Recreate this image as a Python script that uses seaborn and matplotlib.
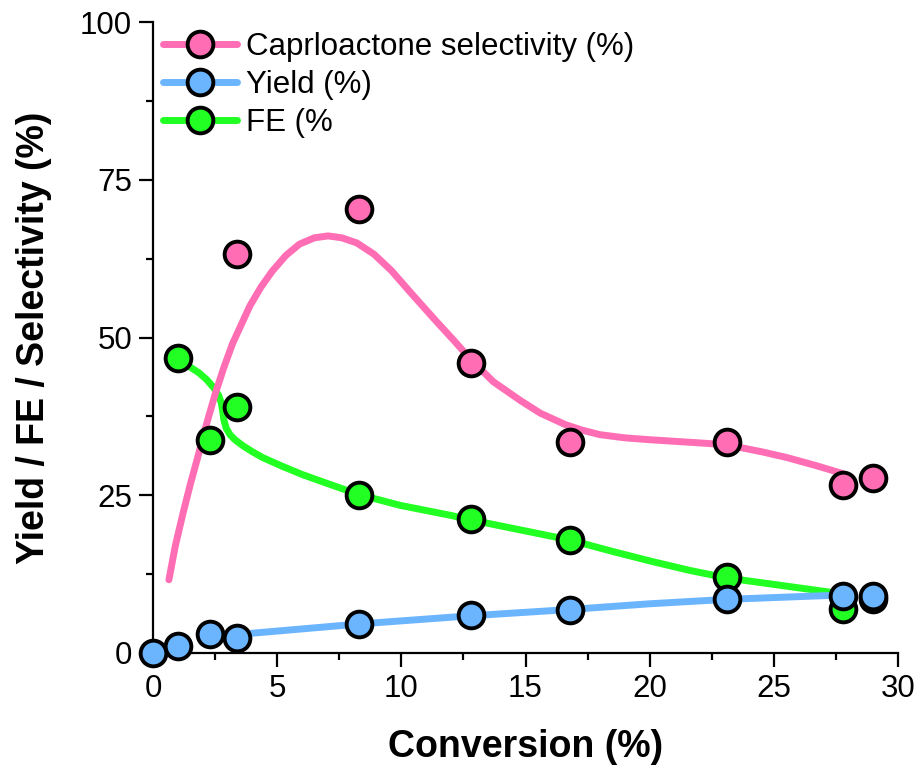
import matplotlib
matplotlib.use("Agg")
import matplotlib.pyplot as plt
from matplotlib.lines import Line2D
from matplotlib.ticker import MultipleLocator
import seaborn as sns
import pandas as pd

# ---- measured data points ----
conversion = [0.0, 1.0, 2.3, 3.4, 8.3, 12.8, 16.8, 23.1, 27.8, 29.0]
sel_conv = [3.4, 8.3, 12.8, 16.8, 23.1, 27.8, 29.0]
selectivity = [63.2, 70.4, 46.0, 33.5, 33.4, 26.7, 27.8]
fe_conv = [1.0, 2.3, 3.4, 8.3, 12.8, 16.8, 23.1, 27.8, 29.0]
fe = [46.8, 33.8, 39.0, 25.1, 21.2, 17.9, 12.0, 6.9, 8.6]
yield_vals = [0.0, 1.1, 3.0, 2.3, 4.6, 6.0, 6.8, 8.6, 9.1, 9.0]

# ---- fitted trend curves ----
sel_fit_x = [0.64, 0.9, 1.2, 1.5, 1.8, 2.15, 2.5, 2.85, 3.2, 3.55, 3.9, 4.35,
             4.8, 5.35, 5.9, 6.5, 7.05, 7.6, 8.2, 8.9, 9.6, 10.4, 11.4, 12.1,
             12.8, 13.7, 14.8, 15.6, 16.6, 17.3, 18.0, 19.0, 20.0, 22.0, 23.1,
             24.5, 25.5, 26.7, 27.8]
sel_fit_y = [11.6, 17.0, 22.0, 26.7, 31.0, 36.2, 41.0, 45.2, 49.0, 52.0, 55.0,
             58.0, 60.5, 63.0, 64.8, 65.8, 66.1, 65.8, 65.0, 63.2, 60.6, 57.0,
             52.6, 49.6, 46.5, 43.0, 40.0, 38.0, 36.2, 35.3, 34.6, 34.1, 33.8,
             33.3, 33.0, 31.9, 31.0, 29.7, 28.4]
fe_fit_x = [1.1, 1.5, 1.85, 2.17, 2.45, 2.65, 2.75, 2.8, 2.85, 2.95, 3.1, 3.3,
            3.6, 4.0, 4.4, 5.2, 6.0, 6.85, 8.3, 9.95, 12.0, 12.8, 14.8, 16.8,
            18.5, 20.1, 21.6, 23.1, 25.5, 27.7]
fe_fit_y = [46.8, 45.3, 44.4, 43.3, 42.0, 40.8, 39.6, 38.5, 37.0, 35.6, 34.6,
            33.8, 32.9, 31.9, 31.0, 29.6, 28.3, 27.1, 25.1, 23.4, 21.8, 21.1,
            19.5, 17.9, 16.1, 14.5, 13.1, 11.9, 10.6, 9.4]
yield_fit_x = [3.4, 3.9, 8.3, 12.8, 16.8, 20.0, 23.1, 27.8]
yield_fit_y = [2.9, 3.1, 4.6, 5.9, 6.9, 7.8, 8.5, 9.2]

labels = ["Caprloactone selectivity (%)", "Yield (%)", "FE (%"]

PINK = "#FF6EB4"
BLUE = "#6BB5FF"
GREEN = "#22FF22"

sns.set_style("ticks")
plt.rcParams["font.family"] = ["Liberation Sans", "DejaVu Sans"]
plt.rcParams["text.color"] = "black"
plt.rcParams["axes.labelcolor"] = "black"
plt.rcParams["xtick.color"] = "black"
plt.rcParams["ytick.color"] = "black"

fig = plt.figure(figsize=(9.21, 7.70), dpi=100)
ax = fig.add_axes([153 / 921, 1 - 653 / 770, 745 / 921, 631 / 770])

LW = 5.0
line_kw = dict(sort=False, linewidth=LW, ax=ax, zorder=2,
               solid_capstyle="round", solid_joinstyle="round")
df_sel_fit = pd.DataFrame({"x": sel_fit_x, "y": sel_fit_y})
df_fe_fit = pd.DataFrame({"x": fe_fit_x, "y": fe_fit_y})
df_y_fit = pd.DataFrame({"x": yield_fit_x, "y": yield_fit_y})
sns.lineplot(data=df_fe_fit, x="x", y="y", color=GREEN, **line_kw)
sns.lineplot(data=df_y_fit, x="x", y="y", color=BLUE, **line_kw)
sns.lineplot(data=df_sel_fit, x="x", y="y", color=PINK, **line_kw)

MS = 18.5
S = MS ** 2
MEW = 2.8
sns.scatterplot(x=sel_conv, y=selectivity, color=PINK, s=S, edgecolor="black",
                linewidth=MEW, ax=ax, zorder=3)
sns.scatterplot(x=fe_conv, y=fe, color=GREEN, s=S, edgecolor="black",
                linewidth=MEW, ax=ax, zorder=4)
sns.scatterplot(x=conversion, y=yield_vals, color=BLUE, s=S, edgecolor="black",
                linewidth=MEW, ax=ax, zorder=5)
for coll in ax.collections:
    coll.set_clip_on(False)

ax.set_xlim(0, 30)
ax.set_ylim(0, 100)
ax.xaxis.set_major_locator(MultipleLocator(5))
ax.xaxis.set_minor_locator(MultipleLocator(2.5))
ax.yaxis.set_major_locator(MultipleLocator(25))
ax.yaxis.set_minor_locator(MultipleLocator(12.5))
ax.tick_params(which="major", length=10, width=1.6, labelsize=22.5, pad=5, color="black")
ax.tick_params(which="minor", length=5, width=1.6, color="black")
for side in ["top", "right"]:
    ax.spines[side].set_visible(False)
for side in ["left", "bottom"]:
    ax.spines[side].set_linewidth(1.6)
    ax.spines[side].set_color("black")

ax.set_xlabel("Conversion (%)", fontsize=27, fontweight="bold", labelpad=18)
ax.set_ylabel("Yield / FE / Selectivity (%)", fontsize=27, fontweight="bold", labelpad=20)

handles = [
    Line2D([], [], color=c, lw=LW, marker="o", markersize=MS, markerfacecolor=c,
           markeredgecolor="black", markeredgewidth=MEW, solid_capstyle="round")
    for c in (PINK, BLUE, GREEN)
]
ax.legend(handles, labels, loc="upper left", bbox_to_anchor=(-0.003, 1.004),
          frameon=False, fontsize=22.5, handlelength=2.35, handletextpad=0.3,
          labelspacing=0.26, borderaxespad=0.2, borderpad=0.2)

fig.savefig("out.png", dpi=100)
